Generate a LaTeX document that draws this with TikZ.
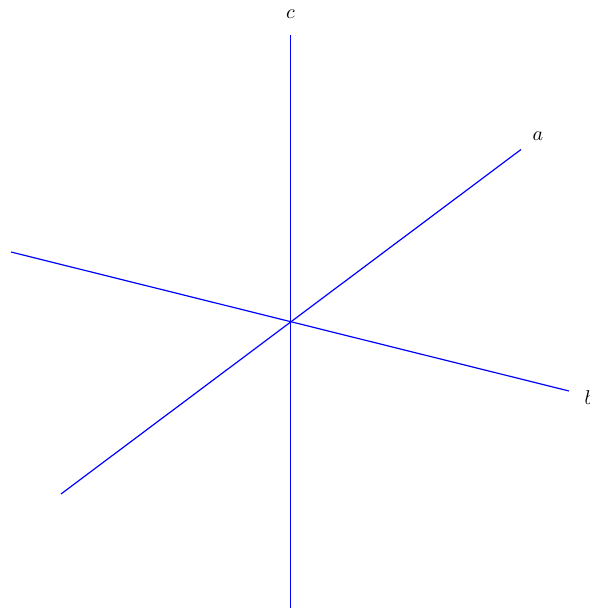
\documentclass[tikz,border=0pt]{standalone}
\begin{document}
\begin{tikzpicture}[x=0.5pt,y=-0.5pt,
  axis/.style={blue,line width=0.6pt},
  lbl/.style={inner sep=0pt}]
\useasboundingbox (0,0) rectangle (589,610);
\coordinate (O) at (290.5,322);
\coordinate (cT) at (290.5,35);
\coordinate (cB) at (290.5,608);
\coordinate (aT) at (521,149.5);
\coordinate (aB) at (61,494);
\coordinate (bR) at (569,391);
\coordinate (bL) at (11,252);
\draw[axis] (cB) -- (cT);
\draw[axis] (aB) -- (aT);
\draw[axis] (bL) -- (bR);
\node[lbl] (lc) at (290.5,14) {$c$};
\node[lbl] (la) at (538,136) {$a$};
\node[lbl] (lb) at (589,398) {$b$};
\end{tikzpicture}
\end{document}
